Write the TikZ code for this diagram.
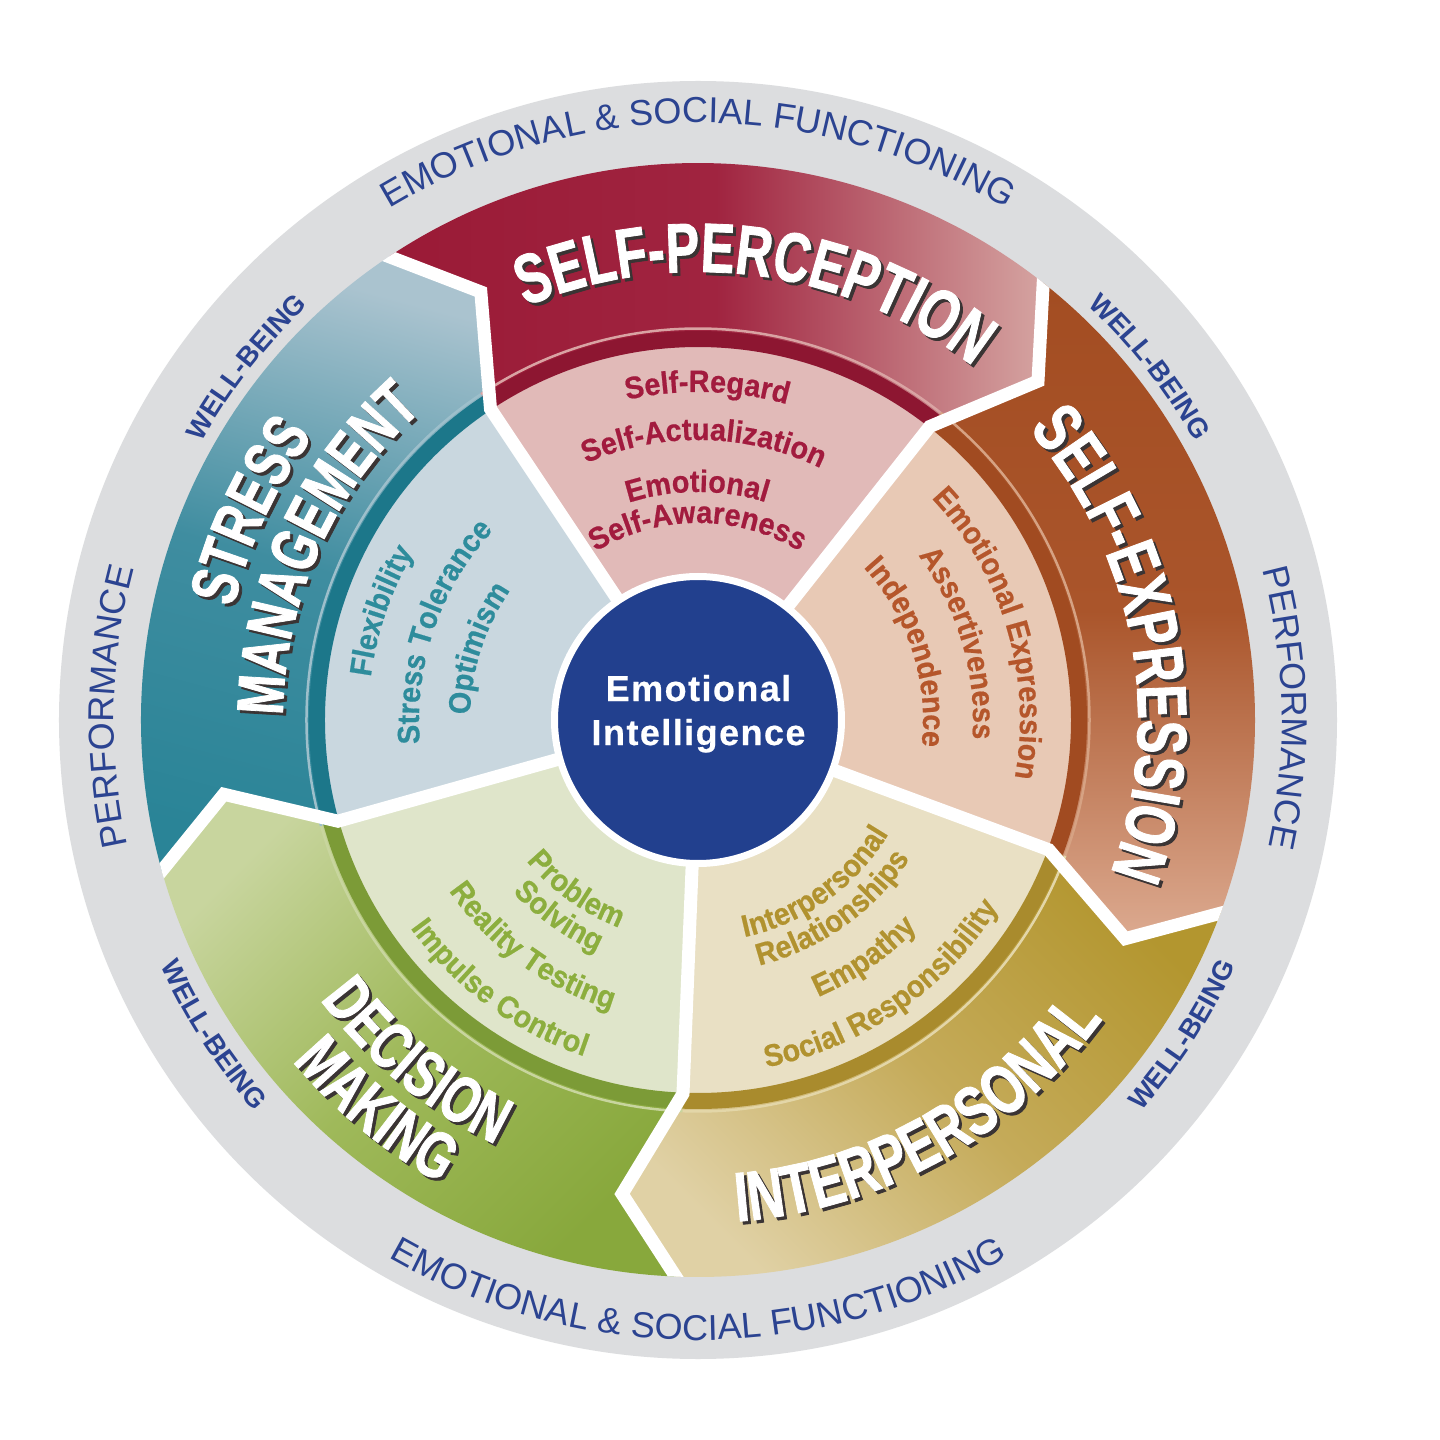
\documentclass[tikz,border=0pt]{standalone}
\usepackage{fontspec}
\setmainfont{Liberation Sans}
\newfontfamily\condfont[FakeStretch=0.72,FakeBold=1.2]{Liberation Sans}
\newfontfamily\itemfont[FakeStretch=0.93,FakeBold=0.6]{Liberation Sans}
\newfontfamily\corefont[LetterSpace=4,FakeBold=0.5]{Liberation Sans}
\usetikzlibrary{decorations.text,calc}

\definecolor{ringgray}{HTML}{DCDDDF}
\definecolor{outerblue}{HTML}{2B4391}
\definecolor{eiblue}{HTML}{22408E}
\definecolor{shadowc}{HTML}{3A3434}
% self-perception
\definecolor{spA}{HTML}{9A1A36}\definecolor{spM}{HTML}{A02440}\definecolor{spB}{HTML}{D5A4A1}
\definecolor{spin}{HTML}{E1BAB8}\definecolor{spstripe}{HTML}{8D1631}\definecolor{spline}{HTML}{D9A3A3}\definecolor{sptext}{HTML}{A21B3E}
% self-expression
\definecolor{seA}{HTML}{A34D22}\definecolor{seM}{HTML}{AA552B}\definecolor{seB}{HTML}{DCAA90}
\definecolor{sein}{HTML}{E8C9B5}\definecolor{sestripe}{HTML}{A14B21}\definecolor{seline}{HTML}{D6A283}\definecolor{setext}{HTML}{B5562B}
% interpersonal
\definecolor{ipA}{HTML}{B3962F}\definecolor{ipM}{HTML}{C5AB5A}\definecolor{ipB}{HTML}{E0D1A5}
\definecolor{ipin}{HTML}{E9E0C4}\definecolor{ipstripe}{HTML}{A98B2D}\definecolor{ipline}{HTML}{E3D6A8}\definecolor{iptext}{HTML}{B1922F}
% decision making
\definecolor{dmA}{HTML}{C8D59E}\definecolor{dmM}{HTML}{9FB95A}\definecolor{dmB}{HTML}{88A83C}
\definecolor{dmin}{HTML}{DFE5CA}\definecolor{dmstripe}{HTML}{7C9B37}\definecolor{dmline}{HTML}{C8D59E}\definecolor{dmtext}{HTML}{8CAE3E}
% stress management
\definecolor{smA}{HTML}{AAC3CF}\definecolor{smM}{HTML}{3F8DA0}\definecolor{smB}{HTML}{2A8497}
\definecolor{smin}{HTML}{C9D7DF}\definecolor{smstripe}{HTML}{1C778A}\definecolor{smline}{HTML}{9DBFCB}\definecolor{smtext}{HTML}{2E8C9C}

\newcommand{\titleA}{\condfont\bfseries\fontsize{70}{70}\selectfont}
\newcommand{\titleB}{\condfont\bfseries\fontsize{66}{66}\selectfont}
\newcommand{\itemsty}{\itemfont\bfseries\fontsize{31}{31}\selectfont}
\newcommand{\outersty}{\fontsize{36}{36}\selectfont}
\newcommand{\wbsty}{\bfseries\fontsize{27.5}{27.5}\selectfont}

% text along a clockwise / counterclockwise arc: centre angle, radius, format, colour, text
\newcommand{\cwtext}[5]{\path[decorate,decoration={text along path,text align=center,text color=#4,text={|#3|#5}}] (#1+60:#2) arc[start angle=#1+60,end angle=#1-60,radius=#2];}
\newcommand{\ccwtext}[5]{\path[decorate,decoration={text along path,text align=center,text color=#4,text={|#3|#5}}] (#1-60:#2) arc[start angle=#1-60,end angle=#1+60,radius=#2];}
\newcommand{\titlecw}[4]{%
  \begin{scope}[shift={(3pt,-3pt)}]\cwtext{#1}{#2}{#3}{shadowc}{#4}\end{scope}
  \cwtext{#1}{#2}{#3}{white}{#4}}
\newcommand{\titleccw}[4]{%
  \begin{scope}[shift={(3pt,-3pt)}]\ccwtext{#1}{#2}{#3}{shadowc}{#4}\end{scope}
  \ccwtext{#1}{#2}{#3}{white}{#4}}
% inner sector: boundary angle, fill, stripe, thin line
\newcommand{\sector}[4]{%
  \fill[#2] (0,0) -- (#1:374pt) arc[start angle=#1,end angle=#1+72,radius=374pt] -- cycle;
  \fill[#3] (#1:373pt) arc[start angle=#1,end angle=#1+72,radius=373pt] -- (#1+72:389pt) arc[start angle=#1+72,end angle=#1,radius=389pt] -- cycle;
  \draw[#4,line width=2.5pt] (#1:391.5pt) arc[start angle=#1,end angle=#1+72,radius=391.5pt];}

\tikzset{
  bandshape/.style={insert path={(#1:374pt) -- (#1-6.8:480pt) -- (#1:557pt) arc[start angle=#1,end angle=#1+72,radius=557pt] -- (#1+65.2:480pt) -- (#1+72:374pt) arc[start angle=#1+72,end angle=#1,radius=374pt] -- cycle}},
  sepline/.style={draw=white,line width=13pt,line join=miter},
  coretext/.style={anchor=base,text=white,inner sep=0pt,font=\corefont\bfseries\fontsize{36}{36}\selectfont},
}

\begin{document}
\begin{tikzpicture}
\useasboundingbox (-698pt,-720pt) rectangle (742pt,720pt);
\fill[white] (-698pt,-720pt) rectangle (742pt,720pt);
\fill[ringgray] (0,0) circle (639pt);

% outer bands
\shade[left color=spA,right color=spB,middle color=spM,bandshape=51.7];
\shade[top color=seA,bottom color=seB,middle color=seM,bandshape=-20.3];
\shade[top color=ipA,bottom color=ipB,middle color=ipM,shading angle=-45,bandshape=-92.3];
\shade[top color=dmA,bottom color=dmB,middle color=dmM,shading angle=45,bandshape=-164.3];
\shade[top color=smA,bottom color=smB,middle color=smM,shading angle=-15,bandshape=123.7];

% inner sectors
\sector{51.7}{spin}{spstripe}{spline}
\sector{-20.3}{sein}{sestripe}{seline}
\sector{-92.3}{ipin}{ipstripe}{ipline}
\sector{-164.3}{dmin}{dmstripe}{dmline}
\sector{123.7}{smin}{smstripe}{smline}

% white separators
\begin{scope}
  \clip (0,0) circle (557pt);
  \foreach \b in {51.7,-20.3,-92.3,-164.3,123.7}{
    \draw[sepline] (\b:100pt) -- (\b:374pt) -- (\b-6.8:480pt) -- ($(\b-6.8:480pt)!1.4!(\b:557pt)$);
  }
\end{scope}

% centre
\node[circle,fill=eiblue,draw=white,line width=7pt,minimum size=287pt,inner sep=0pt] (core) at (0,0) {};
\node[coretext] (eiA) at (0.5pt,19pt) {Emotional};
\node[coretext] (eiB) at (0.5pt,-25pt) {Intelligence};

% band titles
\titlecw{82.4}{448pt}{\titleA}{SELF-PERCEPTION}
\titlecw{10.5}{440pt}{\titleA}{SELF-EXPRESSION}
\titleccw{-61}{503pt}{\titleA}{INTERPERSONAL}
\titleccw{230.5}{470pt}{\titleB}{DECISION}
\titleccw{230.5}{530pt}{\titleB}{MAKING}
\titlecw{155}{478pt}{\titleB}{STRESS}
\titlecw{155.5}{415pt}{\titleB}{MANAGEMENT}

% items
\cwtext{88.4}{328pt}{\itemsty}{sptext}{Self-Regard}
\cwtext{88.8}{280pt}{\itemsty}{sptext}{Self-Actualization}
\cwtext{90.2}{228pt}{\itemsty}{sptext}{Emotional}
\cwtext{90.1}{197pt}{\itemsty}{sptext}{Self-Awareness}

\cwtext{16.6}{322pt}{\itemsty}{setext}{Emotional Expression}
\cwtext{16.4}{275pt}{\itemsty}{setext}{Assertiveness}
\cwtext{18}{225pt}{\itemsty}{setext}{Independence}

\ccwtext{-54.4}{222pt}{\itemsty}{iptext}{Interpersonal}
\ccwtext{-54.6}{253pt}{\itemsty}{iptext}{Relationships}
\ccwtext{-55}{302pt}{\itemsty}{iptext}{Empathy}
\ccwtext{-55.4}{354pt}{\itemsty}{iptext}{Social Responsibility}

\ccwtext{234.3}{222pt}{\itemsty}{dmtext}{Problem}
\ccwtext{234.7}{253pt}{\itemsty}{dmtext}{Solving}
\ccwtext{233.9}{302pt}{\itemsty}{dmtext}{Reality Testing}
\ccwtext{233.6}{355pt}{\itemsty}{dmtext}{Impulse Control}

\cwtext{161}{330pt}{\itemsty}{smtext}{Flexibility}
\cwtext{161}{279pt}{\itemsty}{smtext}{Stress Tolerance}
\cwtext{162}{228pt}{\itemsty}{smtext}{Optimism}

% outer ring texts
\cwtext{90}{597pt}{\outersty}{outerblue}{EMOTIONAL {\&} SOCIAL FUNCTIONING}
\ccwtext{270}{620pt}{\outersty}{outerblue}{EMOTIONAL {\&} SOCIAL FUNCTIONING}
\cwtext{178.7}{584pt}{\outersty}{outerblue}{PERFORMANCE}
\cwtext{1.2}{584pt}{\outersty}{outerblue}{PERFORMANCE}
\cwtext{142}{569pt}{\wbsty}{outerblue}{WELL-BEING}
\cwtext{38}{569pt}{\wbsty}{outerblue}{WELL-BEING}
\ccwtext{-33}{591pt}{\wbsty}{outerblue}{WELL-BEING}
\ccwtext{213}{591pt}{\wbsty}{outerblue}{WELL-BEING}
\end{tikzpicture}
\end{document}
